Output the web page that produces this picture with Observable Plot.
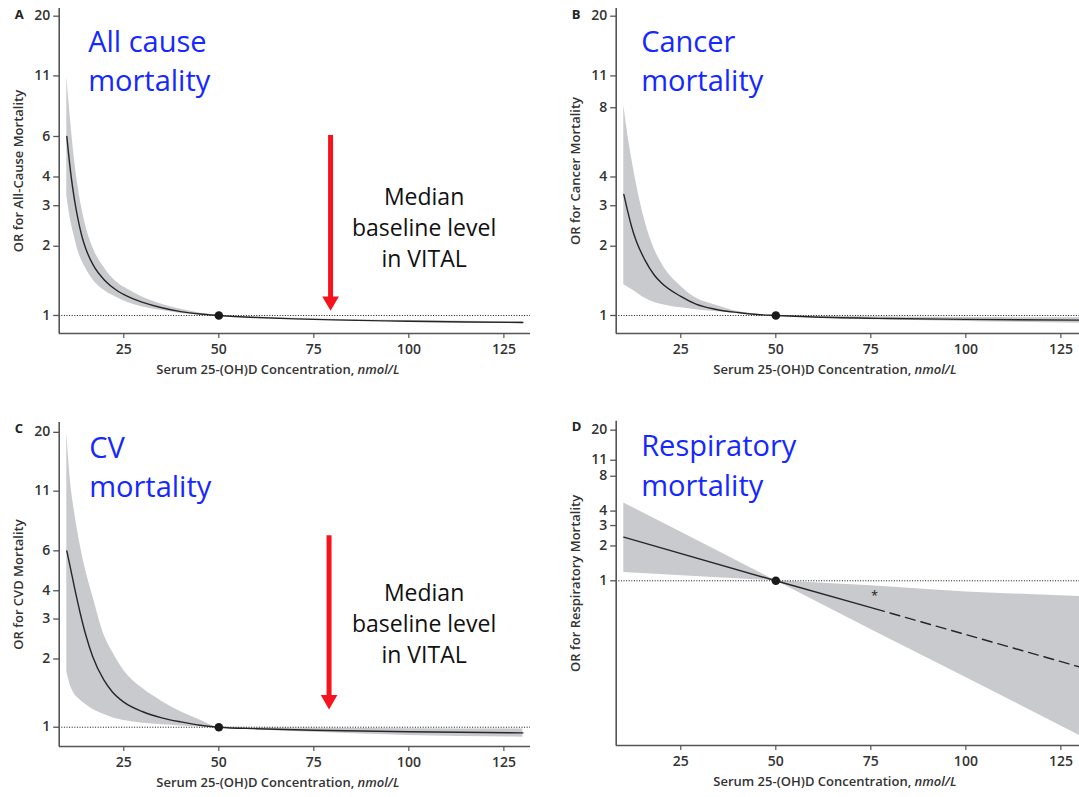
<!DOCTYPE html>
<html><head><meta charset="utf-8">
<script src="https://cdn.jsdelivr.net/npm/d3@7"></script>
<script src="https://cdn.jsdelivr.net/npm/@observablehq/plot@0.6"></script>
<style>
html,body{margin:0;padding:0;background:#fff;overflow:hidden;width:1079px;height:797px}
#wrap{position:relative;width:1079px;height:797px;overflow:hidden}
.panel{position:absolute;overflow:visible}
.panel svg{max-width:none !important}
g[aria-label="red-arrow"]{filter:drop-shadow(3px 2px 2px rgba(0,0,0,0.35))}
g[aria-label="x-axis tick label"]{font-size:14px}
</style></head><body><div id="wrap"></div>
<script>
// ---------- shared ----------
const xDomain = [8, 132];
const xTicks = [25, 50, 75, 100, 125];
const xLabelMain = "Serum 25-(OH)D Concentration, ";
const xLabelUnit = "nmol/L";
const refPoint = [{x: 50, y: 1}];

// ---------- Panel A: all-cause ----------
const aX     = [10, 11, 12, 13, 14, 15, 17, 20, 23, 26, 30, 35, 40, 45, 50, 60, 70, 80, 90, 100, 115, 130];
const aOR    = [6.0, 4.2, 3.2, 2.6, 2.2, 1.95, 1.65, 1.42, 1.29, 1.21, 1.14, 1.08, 1.04, 1.015, 1, 0.98, 0.967, 0.957, 0.95, 0.944, 0.937, 0.932];
const aUpper = [10.9, 7.0, 4.8, 3.6, 2.9, 2.45, 1.95, 1.6, 1.4, 1.3, 1.2, 1.12, 1.065, 1.025, 1, 0.985, 0.973, 0.964, 0.957, 0.951, 0.945, 0.941];
const aLower = [3.3, 2.6, 2.2, 1.9, 1.72, 1.6, 1.42, 1.28, 1.2, 1.14, 1.09, 1.05, 1.02, 1.006, 1, 0.975, 0.96, 0.95, 0.943, 0.937, 0.929, 0.923];
const aTicks = [1, 2, 3, 4, 6, 11, 20];

// ---------- Panel B: cancer ----------
const bX     = [10, 11, 12, 13.3, 15.5, 18, 20, 25, 29, 34, 40, 45, 50, 60, 80, 100, 130];
const bOR    = [3.36, 2.85, 2.45, 2.1, 1.75, 1.5, 1.38, 1.21, 1.12, 1.065, 1.03, 1.01, 1, 0.985, 0.97, 0.962, 0.955];
const bUpper = [8.2, 6.2, 4.9, 3.75, 2.6, 1.95, 1.68, 1.34, 1.19, 1.11, 1.04, 1.015, 1, 0.995, 0.985, 0.98, 0.977];
const bLower = [1.36, 1.33, 1.30, 1.26, 1.19, 1.14, 1.117, 1.08, 1.06, 1.04, 1.02, 1.008, 1, 0.975, 0.955, 0.942, 0.925];
const bTicks = [1, 2, 3, 4, 8, 11, 20];

// ---------- Panel C: CVD ----------
const cX     = [10, 11, 12, 13.5, 15, 16.8, 19.7, 22, 25, 30, 35, 40, 45, 50, 60, 75, 100, 130];
const cOR    = [6.0, 5.0, 4.15, 3.2, 2.55, 2.05, 1.62, 1.43, 1.29, 1.17, 1.1, 1.055, 1.02, 1, 0.985, 0.97, 0.955, 0.944];
const cUpper = [20, 12, 9, 6.4, 4.9, 3.8, 2.58, 2.15, 1.78, 1.48, 1.3, 1.17, 1.075, 1, 0.995, 0.99, 0.985, 0.983];
const cLower = [1.75, 1.52, 1.4, 1.32, 1.26, 1.2, 1.14, 1.1, 1.07, 1.04, 1.024, 1.013, 1.005, 1, 0.975, 0.95, 0.92, 0.903];
const cTicks = [1, 2, 3, 4, 6, 11, 20];

// ---------- Panel D: respiratory ----------
const dSolidX  = [10, 50, 76];
const dSolidOR = [2.38, 1, 0.575];
const dDashX   = [76, 130];
const dDashOR  = [0.575, 0.18];
const dBandX   = [10, 30, 50, 75, 100, 130];
const dUpper   = [4.7, 2.17, 1, 0.905, 0.80, 0.73];
const dLower   = [1.18, 1.085, 1, 0.38, 0.146, 0.046];
const dTicks   = [1, 2, 3, 4, 8, 11, 20];
const dStar    = [{x: 76, y: 0.74, t: "*"}];

// ---------- annotations ----------
const medianText = "Median\nbaseline level\nin VITAL";
const arrowA = [{x: 79.4, top: 6.06, tip: 1.05}];
const arrowC = [{x: 79.0, top: 7.0, tip: 1.2}];
const medianA = [{x: 104, y: 2.45}];
const medianC = [{x: 104, y: 2.9}];

const zip = (xs, ys, lo, hi) => xs.map((x, i) => ({x, y: ys ? ys[i] : null, lo: lo ? lo[i] : null, hi: hi ? hi[i] : null}));

const BLUE = "#1428ff";
const FONT = "'Open Sans', 'Noto Sans', sans-serif";
const tickSymbol = {draw(ctx, size) { const r = Math.sqrt(size / Math.PI); ctx.moveTo(-r, 0); ctx.lineTo(0, 0); }};

function panel(o) {
  const marks = [];
  if (o.band) marks.push(Plot.areaY(o.band, {x: "x", y1: "lo", y2: "hi", fill: "#c9cacd", curve: o.curve || "monotone-x"}));
  marks.push(Plot.ruleY([1], {stroke: "#111", strokeWidth: 1, strokeDasharray: "1,1.6"}));
  for (const ln of o.lines) {
    marks.push(Plot.line(ln.data, {x: "x", y: "y", stroke: "#262626", strokeWidth: 1.4, curve: o.curve || "monotone-x", strokeDasharray: ln.dash}));
  }
  marks.push(Plot.dot(refPoint, {x: "x", y: "y", r: 4.3, fill: "#1a1a1a", stroke: "none"}));
  marks.push(Plot.ruleX([xDomain[0]], {stroke: "#555", strokeWidth: 1.6}));
  marks.push(Plot.ruleY([o.yDomain[0]], {stroke: "#555", strokeWidth: 1.6}));
  // y axis: tick marks, tick labels, title
  marks.push(Plot.dot(o.yTicks, {y: d => d, frameAnchor: "left", symbol: tickSymbol, r: 6, stroke: "#555", strokeWidth: 1.3, fill: "none"}));
  marks.push(Plot.text(o.yTicks, {y: d => d, frameAnchor: "left", dx: -9, text: d => String(d), textAnchor: "end", fontSize: 14, fontWeight: 600, fill: "#333", lineHeight: 0.9}));
  marks.push(Plot.text([o.yLabel], {frameAnchor: "left", dx: -40, text: d => d, rotate: -90, textAnchor: "middle", lineAnchor: "middle", fontSize: 13, fontWeight: 600, fill: "#333"}));
  // panel letter
  marks.push(Plot.text([o.letter], {frameAnchor: "top-left", dx: -44.5, dy: 1, text: d => d, textAnchor: "start", lineAnchor: "top", fontSize: 13, fontWeight: 700, fill: "#222"}));
  // blue title
  marks.push(Plot.text([o.title], {frameAnchor: "top-left", dx: o.titleDx, dy: o.titleDy, text: d => d, textAnchor: "start", lineAnchor: "top", fontSize: 29, fontWeight: 400, fill: BLUE, lineHeight: 1.36}));
  if (o.arrow) {
    marks.push(Plot.ruleX(o.arrow, {x: "x", y1: "top", y2: "tip", stroke: "#f5141e", strokeWidth: 5, insetBottom: 9, ariaLabel: "red-arrow"}));
    marks.push(Plot.dot(o.arrow, {x: "x", y: "tip", symbol: "triangle", rotate: 180, r: 6.2, dy: -9.4, fill: "#f5141e", stroke: "none", ariaLabel: "red-arrow"}));
  }
  if (o.median) {
    marks.push(Plot.text(o.median, {x: "x", y: "y", text: () => medianText, fontSize: 23, fill: "#111", lineHeight: 1.34, fontWeight: 400}));
  }
  if (o.star) marks.push(Plot.text(o.star, {x: "x", y: "y", text: "t", fontSize: 12, fill: "#333"}));

  const svg = Plot.plot({
    width: o.width, height: o.height,
    marginTop: o.mt, marginBottom: o.mb, marginLeft: 58.7, marginRight: 10,
    style: {fontFamily: FONT, fontSize: "13px", fontWeight: 600, color: "#333", background: "transparent", overflow: "visible"},
    x: {domain: xDomain, ticks: xTicks, tickSize: 5, tickPadding: 6, label: xLabelMain + xLabelUnit, labelAnchor: "center", labelOffset: 40},
    y: {type: "log", domain: o.yDomain, axis: null},
    marks
  });
  // italic unit in x label, nudged left like the reference
  svg.querySelectorAll("text").forEach(t => {
    if (t.textContent.startsWith("Serum")) {
      while (t.firstChild) t.removeChild(t.firstChild);
      const ns = "http://www.w3.org/2000/svg";
      const a = document.createElementNS(ns, "tspan"); a.textContent = xLabelMain;
      const b = document.createElementNS(ns, "tspan"); b.textContent = xLabelUnit; b.setAttribute("font-style", "italic");
      t.appendChild(a); t.appendChild(b);
      t.setAttribute("transform", ((t.getAttribute("transform") || "") + " translate(-17,0)").trim());
    }
  });
  svg.style.maxWidth = "none";
  const div = document.createElement("div");
  div.className = "panel";
  div.style.left = o.left + "px"; div.style.top = o.top + "px";
  div.style.width = o.width + "px"; div.style.height = o.height + "px";
  div.appendChild(svg);
  document.getElementById("wrap").appendChild(div);
}

panel({letter: "A", left: 0, top: 0, width: 540, height: 392, mt: 8, mb: 59,
  yDomain: [0.835, 21.6], yTicks: aTicks, yLabel: "OR for All-Cause Mortality",
  band: zip(aX, aOR, aLower, aUpper), lines: [{data: zip(aX, aOR)}],
  title: "All cause\nmortality", titleDx: 29, titleDy: 15, arrow: arrowA, median: medianA});

panel({letter: "B", left: 557, top: 0, width: 540, height: 392, mt: 8, mb: 59,
  yDomain: [0.835, 21.6], yTicks: bTicks, yLabel: "OR for Cancer Mortality",
  band: zip(bX, bOR, bLower, bUpper), lines: [{data: zip(bX, bOR)}],
  title: "Cancer\nmortality", titleDx: 25, titleDy: 15});

panel({letter: "C", left: 0, top: 400, width: 540, height: 397, mt: 22, mb: 51,
  yDomain: [0.822, 22.1], yTicks: cTicks, yLabel: "OR for CVD Mortality",
  band: zip(cX, cOR, cLower, cUpper), lines: [{data: zip(cX, cOR)}],
  title: "CV\nmortality", titleDx: 30, titleDy: 7, arrow: arrowC, median: medianC});

panel({letter: "D", left: 557, top: 400, width: 540, height: 397, mt: 20.7, mb: 52,
  yDomain: [0.0378, 23.9], yTicks: dTicks, yLabel: "OR for Respiratory Mortality",
  band: zip(dBandX, null, dLower, dUpper),
  lines: [{data: zip(dSolidX, dSolidOR)}, {data: zip(dDashX, dDashOR), dash: "10,6"}],
  curve: "linear", star: dStar,
  title: "Respiratory\nmortality", titleDx: 25, titleDy: 7});
</script>
</body></html>
